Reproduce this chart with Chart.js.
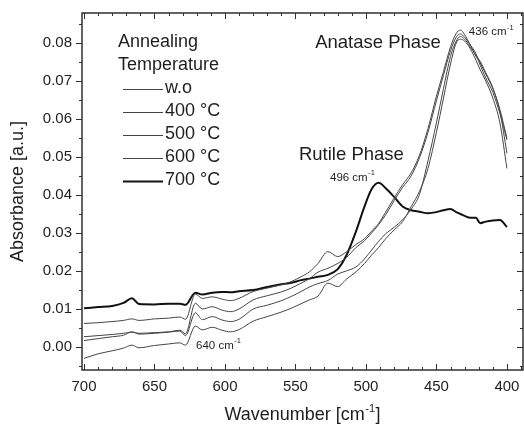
<!DOCTYPE html>
<html><head><meta charset="utf-8">
<script src="https://cdn.jsdelivr.net/npm/chart.js@4"></script>
<style>html,body{margin:0;padding:0;background:#fff;}canvas{display:block;}</style>
</head><body>
<canvas id="c" width="524" height="425"></canvas>
<script>
const wavenumbers = [700,690,680,672,666,661,650,640,632,628,621,616,609,602,596,590,580,570,560,553,546,540,534,527,520,514,507,501,496,491,486,480,474,468,462,456,450,445,440,436,433,430,426,422,419,415,410,405,400];
const absWo  = [-0.0030,-0.0018,-0.0010,-0.0003,0.0005,-0.0002,0.0004,0.0008,0.0011,0.0005,
                0.0055,0.0045,0.0052,0.0044,0.0040,0.0046,0.0068,0.0080,0.0092,0.0102,
                0.0114,0.0124,0.0134,0.0168,0.0159,0.0178,0.0198,0.0220,0.0242,0.0262,
                0.0285,0.0308,0.0330,0.0369,0.0410,0.0470,0.0565,0.0655,0.0745,0.0800,
                0.0810,0.0805,0.0785,0.0755,0.0730,0.0700,0.0655,0.0590,0.0470];
const abs400 = [0.0017,0.0022,0.0027,0.0031,0.0040,0.0034,0.0036,0.0039,0.0042,0.0030,
                0.0090,0.0072,0.0080,0.0071,0.0067,0.0073,0.0100,0.0110,0.0122,0.0133,
                0.0146,0.0158,0.0167,0.0175,0.0192,0.0200,0.0211,0.0232,0.0255,0.0278,
                0.0298,0.0315,0.0335,0.0362,0.0402,0.0490,0.0590,0.0680,0.0765,0.0805,
                0.0817,0.0810,0.0790,0.0768,0.0752,0.0722,0.0682,0.0620,0.0510];
const abs500 = [0.0027,0.0030,0.0033,0.0036,0.0039,0.0036,0.0038,0.0040,0.0044,0.0035,
                0.0115,0.0100,0.0106,0.0097,0.0093,0.0100,0.0124,0.0135,0.0145,0.0155,
                0.0168,0.0180,0.0197,0.0207,0.0220,0.0235,0.0262,0.0280,0.0300,0.0322,
                0.0348,0.0385,0.0420,0.0450,0.0498,0.0565,0.0648,0.0715,0.0780,0.0815,
                0.0824,0.0815,0.0795,0.0772,0.0742,0.0708,0.0670,0.0615,0.0545];
const abs600 = [0.0062,0.0064,0.0067,0.0070,0.0074,0.0070,0.0074,0.0076,0.0079,0.0073,
                0.0139,0.0128,0.0132,0.0126,0.0122,0.0128,0.0146,0.0155,0.0164,0.0172,
                0.0185,0.0198,0.0220,0.0251,0.0238,0.0250,0.0270,0.0285,0.0305,0.0325,
                0.0355,0.0392,0.0427,0.0458,0.0505,0.0575,0.0660,0.0725,0.0790,0.0825,
                0.0834,0.0822,0.0795,0.0765,0.0748,0.0718,0.0680,0.0625,0.0550];
const abs700 = [0.0102,0.0105,0.0108,0.0116,0.0128,0.0113,0.0112,0.0114,0.0114,0.0111,
                0.0143,0.0138,0.0143,0.0145,0.0144,0.0147,0.0150,0.0158,0.0165,0.0169,
                0.0176,0.0180,0.0185,0.0190,0.0205,0.0240,0.0305,0.0370,0.0415,0.0432,
                0.0418,0.0395,0.0370,0.0360,0.0356,0.0352,0.0355,0.0360,0.0363,0.0355,
                0.0350,0.0345,0.0340,0.0340,0.0326,0.0330,0.0333,0.0334,0.0316];
const seriesLabels = ['w.o','400 °C','500 °C','600 °C','700 °C'];
const xTickValues = [700,650,600,550,500,450,400];
const xTickLabels = ['700','650','600','550','500','450','400'];
const yTickValues = [0,0.01,0.02,0.03,0.04,0.05,0.06,0.07,0.08];
const yTickLabels = ['0.00','0.01','0.02','0.03','0.04','0.05','0.06','0.07','0.08'];
const legendTitle = ['Annealing','Temperature'];
const xTitle = ['Wavenumber [cm','-1',']'];
const yTitle = 'Absorbance [a.u.]';
const phaseNotes = [
  {text:'Anatase Phase', x:536.0, y:0.0800},
  {text:'Rutile Phase',  x:547.5, y:0.0505}
];
const peakNotes = [
  {text:'436 cm', sup:'-1', x:427.0, y:0.0829},
  {text:'496 cm', sup:'-1', x:525.5, y:0.0445},
  {text:'640 cm', sup:'-1', x:620.5, y:0.0003}
];

const FAM = '"Liberation Sans", Arial, Helvetica, sans-serif';
const TXT = '#1e1e1e';
const seriesData = [absWo, abs400, abs500, abs600, abs700];
const seriesColor = ['#454545','#454545','#454545','#454545','#111111'];
const seriesWidth = [1,1,1,1,2];

const datasets = seriesData.map((arr,i)=>({
  label: seriesLabels[i],
  data: wavenumbers.map((w,j)=>({x:w, y:arr[j]})),
  borderColor: seriesColor[i],
  borderWidth: seriesWidth[i],
  pointRadius: 0,
  fill: false,
  cubicInterpolationMode: 'monotone'
}));

const decor = {
  id:'decor',
  afterDraw(chart){
    const {ctx, chartArea:a, scales:{x,y}} = chart;
    ctx.save();
    ctx.strokeStyle = '#303030';
    ctx.lineWidth = 1.5;
    ctx.strokeRect(a.left, a.top, a.right-a.left, a.bottom-a.top);
    ctx.lineWidth = 1;
    ctx.beginPath();
    for (let v = 390; v <= 700; v += 10) {
      const px = Math.round(x.getPixelForValue(v)) + 0.5;
      const len = (v % 50 === 0) ? 6 : 3;
      ctx.moveTo(px, a.bottom); ctx.lineTo(px, a.bottom - len);
      ctx.moveTo(px, a.top); ctx.lineTo(px, a.top + len);
    }
    for (let i = -1; i <= 17; i++) {
      const v = i * 0.005;
      const py = Math.round(y.getPixelForValue(v)) + 0.5;
      const len = (i % 2 === 0) ? 6 : 3;
      ctx.moveTo(a.left, py); ctx.lineTo(a.left - len, py);
      ctx.moveTo(a.right, py); ctx.lineTo(a.right - len, py);
    }
    ctx.stroke();

    ctx.fillStyle = TXT;
    ctx.textBaseline = 'middle';
    ctx.textAlign = 'left';
    ctx.font = '18px ' + FAM;
    const lx = a.left + 36, y0 = a.top + 29.5, dy = 23;
    ctx.fillText(legendTitle[0], lx, y0);
    ctx.fillText(legendTitle[1], lx, y0 + dy);
    chart.data.datasets.forEach((ds,i)=>{
      const yy = y0 + dy*(i+2);
      ctx.strokeStyle = ds.borderColor;
      ctx.lineWidth = ds.borderWidth;
      ctx.beginPath();
      ctx.moveTo(lx + 5, Math.round(yy)+0.5);
      ctx.lineTo(lx + 45, Math.round(yy)+0.5);
      ctx.stroke();
      ctx.fillText(ds.label, lx + 47, yy);
    });
    ctx.font = '18.5px ' + FAM;
    phaseNotes.forEach(n=>{
      ctx.fillText(n.text, x.getPixelForValue(n.x), y.getPixelForValue(n.y));
    });
    peakNotes.forEach(n=>{
      const px = x.getPixelForValue(n.x), py = y.getPixelForValue(n.y);
      ctx.font = '11.5px ' + FAM;
      ctx.fillText(n.text, px, py);
      const w = ctx.measureText(n.text).width;
      ctx.font = '7.5px ' + FAM;
      ctx.fillText(n.sup, px + w + 0.5, py - 4.5);
    });
    ctx.textBaseline = 'alphabetic';
    ctx.font = '18px ' + FAM;
    const w1 = ctx.measureText(xTitle[0]).width;
    const w3 = ctx.measureText(xTitle[2]).width;
    ctx.font = '11px ' + FAM;
    const w2 = ctx.measureText(xTitle[1]).width;
    const total = w1 + w2 + w3 + 1;
    let sx = (a.left + a.right)/2 - total/2;
    const by = 420;
    ctx.font = '18px ' + FAM;
    ctx.fillText(xTitle[0], sx, by);
    ctx.font = '11px ' + FAM;
    ctx.fillText(xTitle[1], sx + w1 + 0.5, by - 8);
    ctx.font = '18px ' + FAM;
    ctx.fillText(xTitle[2], sx + w1 + w2 + 1, by);
    ctx.restore();
  }
};

new Chart(document.getElementById('c'), {
  type: 'line',
  data: { datasets },
  options: {
    responsive: false,
    animation: false,
    devicePixelRatio: 1,
    layout: { padding: { left: 0, top: 13, right: 1, bottom: 0 } },
    plugins: { legend: { display: false }, tooltip: { enabled: false } },
    scales: {
      x: {
        type: 'linear', reverse: true, min: 388.6, max: 701.4,
        afterBuildTicks: s => { s.ticks = xTickValues.map(v => ({ value: v })); },
        afterFit: s => { s.height = 55; s.paddingLeft = 0; s.paddingRight = 0; s.paddingTop = 0; s.paddingBottom = 0; },
        grid: { display: false, drawTicks: false },
        border: { display: false },
        ticks: { padding: 8, color: TXT, font: { size: 15, family: FAM },
                 callback: (v, i) => xTickLabels[i] },
        title: { display: false }
      },
      y: {
        type: 'linear', min: -0.00605, max: 0.0879,
        afterBuildTicks: s => { s.ticks = yTickValues.map(v => ({ value: v })); },
        afterFit: s => { s.width = 82; s.paddingLeft = 0; s.paddingRight = 0; s.paddingTop = 0; s.paddingBottom = 0; },
        grid: { display: false, drawTicks: false },
        border: { display: false },
        ticks: { padding: 10, color: TXT, font: { size: 15, family: FAM },
                 callback: (v, i) => yTickLabels[i] },
        title: { display: true, text: yTitle, color: TXT, font: { size: 18, family: FAM },
                 padding: { top: 7, bottom: 0 } }
      }
    }
  },
  plugins: [decor]
});
</script>
</body></html>
